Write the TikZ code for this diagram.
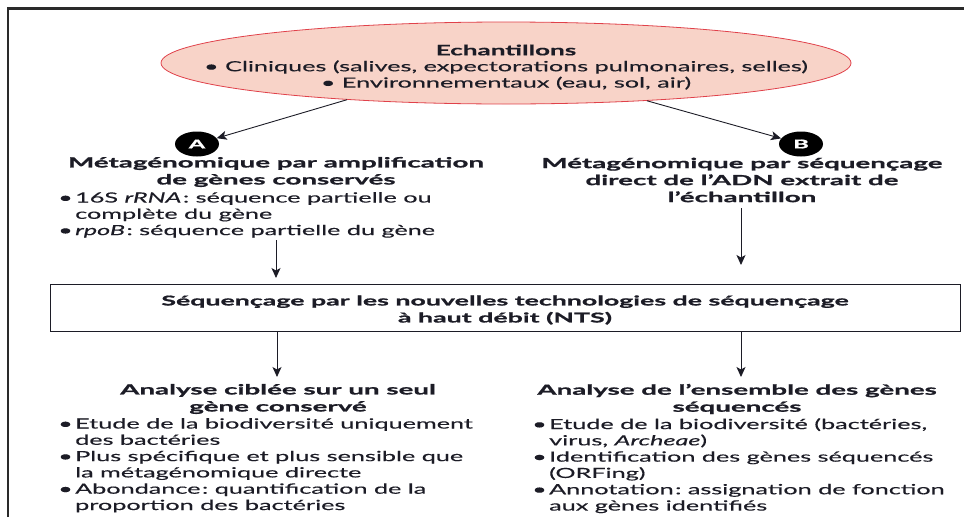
\documentclass[tikz,border=0pt]{standalone}
\usepackage{fontspec}
\setmainfont{Lato}
% wide sans faces for headings and body text
\newfontfamily\headfont[FakeStretch=1.98, FakeBold=1.2]{Lato}
\newfontfamily\bodyfont[FakeStretch=1.8, FakeBold=0.35]{Lato}
\usetikzlibrary{shapes.geometric,arrows.meta}

\definecolor{ink}{HTML}{1C1C26}
\definecolor{samplefill}{HTML}{F8D3C8}
\definecolor{sampleline}{HTML}{E0414A}
\definecolor{framegray}{HTML}{2A2A2A}

\newcommand\bitem[1]{\makebox[17pt][l]{\textbullet}#1}
\newcommand\bcont[1]{\hspace*{17pt}#1}
\newcommand\colonsp{\hspace{1.5pt}:}

\tikzset{
  headtext/.style={text=ink, align=center, inner sep=0pt,
    font=\headfont\bfseries\fontsize{14}{17}\selectfont},
  bodytext/.style={text=ink, align=left, inner sep=0pt,
    font=\bodyfont\fontsize{14}{16.3}\selectfont},
  badge/.style={ellipse, fill=black, minimum width=44pt, minimum height=25pt,
    inner sep=0pt, text=white, font=\headfont\bfseries\fontsize{12}{12}\selectfont},
  arr/.style={draw=ink, line width=0.9pt,
    -{Stealth[length=10pt, width=9pt, inset=2.5pt]}},
}

\begin{document}
\begin{tikzpicture}[x=1pt, y=-1pt]
\useasboundingbox (0,0) rectangle (964,517);

% page frame (top and left rules)
\draw[framegray, line width=2.5pt] (8,517) -- (8,8.5) -- (964,8.5);

% samples
\node[ellipse, draw=sampleline, fill=samplefill, line width=0.8pt,
      minimum width=690pt, minimum height=82pt, inner sep=0pt] (ech) at (506,63) {};
\node[headtext, font=\bodyfont\bfseries\fontsize{14.5}{16}\selectfont] (echt) at (506,50) {Echantillons};
\node[bodytext, align=center] (echl) at (506,75)
  {\textbullet\ Cliniques (salives, expectorations pulmonaires, selles)\\
   \textbullet\ Environnementaux (eau, sol, air)};

% branch badges
\node[badge] (a) at (197,144) {A};
\node[badge] (b) at (801,144) {B};
\draw[arr] (ech.193) -- (a);
\draw[arr] (ech.345) -- (b);

% branch A
\node[headtext] (ha) at (276,172)
  {Métagénomique par amplification\\de gènes conservés};
\node[bodytext, anchor=north west] (la) at (58,192)
  {\bitem{16S \textit{rRNA}\colonsp\ séquence partielle ou}\\
   \bcont{complète du gène}\\
   \bitem{\textit{rpoB}\colonsp\ séquence partielle du gène}};

% branch B
\node[headtext] (hb) at (742,180)
  {Métagénomique par séquençage\\direct de l’ADN extrait de\\l’échantillon};

% sequencing step
\node[draw=ink, line width=0.9pt, minimum width=910pt, minimum height=47pt,
      inner sep=0pt] (nts) at (505,307.5) {};
\node[headtext, font=\headfont\bfseries\fontsize{13.5}{17}\selectfont] (ntst) at (505,310)
  {Séquençage par les nouvelles technologies de séquençage\\à haut débit (NTS)};

\coordinate (astart) at (276,240);
\coordinate (aend) at (276,278);
\coordinate (bstart) at (741,208);
\coordinate (bend) at (741,265);
\draw[arr] (astart) -- (aend);
\draw[arr] (bstart) -- (bend);

% arrows down to the two analyses
\coordinate (ca) at (277,377);
\coordinate (cb) at (741,377);
\draw[arr] (nts.south -| ca) -- (ca);
\draw[arr] (nts.south -| cb) -- (cb);

% targeted analysis
\node[headtext] (ta) at (278,399)
  {Analyse ciblée sur un seul\\gène conservé};
\node[bodytext, anchor=north west] (lta) at (58,418)
  {\bitem{Etude de la biodiversité uniquement}\\
   \bcont{des bactéries}\\
   \bitem{Plus spécifique et plus sensible que}\\
   \bcont{la métagénomique directe}\\
   \bitem{Abondance\colonsp\ quantification de la}\\
   \bcont{proportion des bactéries}};

% whole-gene analysis
\node[headtext] (tb) at (737,399)
  {Analyse de l’ensemble des gènes\\séquencés};
\node[bodytext, anchor=north west] (ltb) at (532,418)
  {\bitem{Etude de la biodiversité (bactéries,}\\
   \bcont{virus, \textit{Archeae})}\\
   \bitem{Identification des gènes séquencés}\\
   \bcont{(ORFing)}\\
   \bitem{Annotation\colonsp\ assignation de fonction}\\
   \bcont{aux gènes identifiés}};
\end{tikzpicture}
\end{document}
